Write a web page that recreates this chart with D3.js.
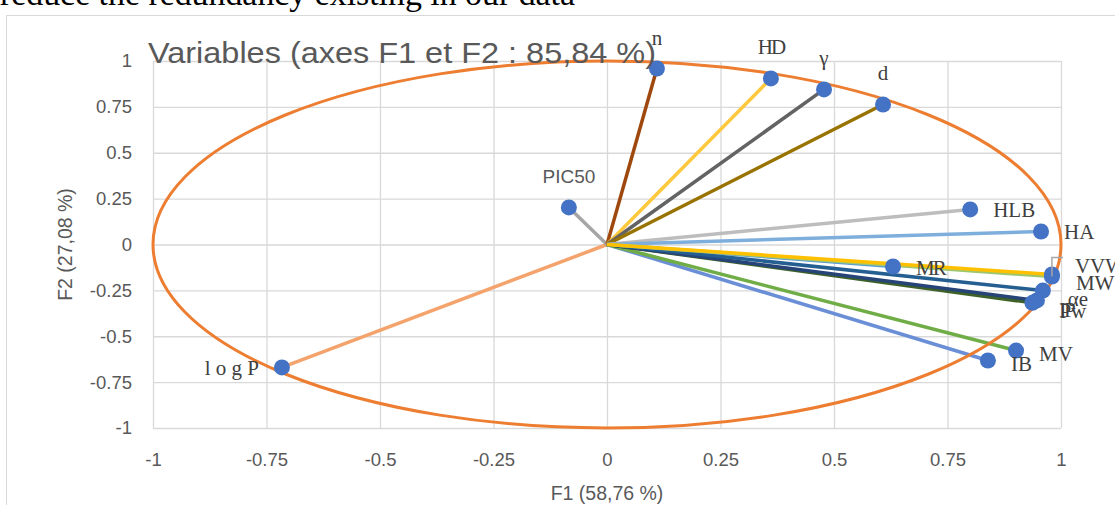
<!DOCTYPE html>
<meta charset="utf-8">
<title>Variables (axes F1 et F2)</title>
<script src="https://d3js.org/d3.v7.min.js"></script>
<style>
  body { margin: 0; background: #fff; }
  svg { display: block; }
</style>
<div id="chart"></div>
<script>
  // correlation circle data
  const names = ["n", "HD", "γ", "d", "PIC50", "HLB", "HA", "MR", "VVW", "MW", "αe", "IP", "Pw", "MV", "IB", "l o g P"];
  const f1 = [0.110, 0.361, 0.478, 0.608, -0.084, 0.800, 0.956, 0.630, 0.980, 0.980, 0.960, 0.947, 0.937, 0.901, 0.839, -0.716];
  const f2 = [0.959, 0.905, 0.845, 0.763, 0.202, 0.191, 0.071, -0.120, -0.163, -0.175, -0.251, -0.305, -0.318, -0.578, -0.632, -0.670];
  const lineColors = ["#9E480E", "#FFC83D", "#636363", "#997300", "#A5A5A5", "#BDBDBD", "#7EAEDC", "#5B9BD5",
                      "#FFC000", "#9DC76E", "#255E91", "#264478", "#3D6128", "#70AD47", "#6A8FD6", "#F4A36C"];
  const labelSide = ["top", "top", "top", "top", "top", "right", "right", "right",
                     "right", "right", "right", "right", "right", "right", "right", "left"];
  // small hand nudges for crowded labels (dx, dy)
  const nudge = { "VVW": [0, -9], "MW": [1, 5], "αe": [2, 7], "IP": [-1, 9], "Pw": [4, 7], "MV": [0, 2], "IB": [0, 3] };

  const ticks = [-1, -0.75, -0.5, -0.25, 0, 0.25, 0.5, 0.75, 1];
  const tickLabels = ["-1", "-0.75", "-0.5", "-0.25", "0", "0.25", "0.5", "0.75", "1"];

  const W = 1115, H = 505;
  const plot = { left: 153, right: 1061, top: 61, bottom: 428 };

  const svg = d3.select("#chart").append("svg")
    .attr("width", W).attr("height", H);

  // document text cut at the top
  svg.append("text")
    .attr("x", 0).attr("y", 5)
    .attr("textLength", 575)
    .attr("lengthAdjust", "spacingAndGlyphs")
    .style("font-family", "'Liberation Serif', 'Times New Roman', serif")
    .style("font-size", "33px")
    .style("fill", "#000")
    .text("reduce the redundancy existing in our data");

  // chart frame
  svg.append("rect")
    .attr("x", 6.5).attr("y", 15.5)
    .attr("width", W + 10).attr("height", H + 10)
    .attr("fill", "#fff").attr("stroke", "#D9D9D9");

  const x = d3.scaleLinear().domain([-1, 1]).range([plot.left, plot.right]);
  const y = d3.scaleLinear().domain([-1, 1]).range([plot.bottom, plot.top]);

  const tickFont = "'Liberation Sans', Arial, sans-serif";

  // vertical gridlines + x tick labels
  const xAxis = svg.append("g")
    .attr("transform", `translate(0,${plot.bottom})`)
    .call(d3.axisBottom(x).tickValues(ticks).tickFormat((d, i) => tickLabels[i])
      .tickSize(-(plot.bottom - plot.top)).tickPadding(25));
  xAxis.select(".domain").remove();

  const yAxis = svg.append("g")
    .attr("transform", `translate(${plot.left},0)`)
    .call(d3.axisLeft(y).tickValues(ticks).tickFormat((d, i) => tickLabels[i])
      .tickSize(-(plot.right - plot.left)).tickPadding(21));
  yAxis.select(".domain").remove();

  svg.selectAll(".tick line").attr("stroke", "#D9D9D9").attr("stroke-width", 1.3);
  svg.selectAll(".tick text")
    .style("font-family", tickFont)
    .style("font-size", "18.5px")
    .style("fill", "#595959");

  // axis titles
  svg.append("text")
    .attr("x", x(0)).attr("y", 500)
    .attr("text-anchor", "middle")
    .style("font-family", tickFont)
    .style("font-size", "19.5px")
    .style("fill", "#595959")
    .text("F1 (58,76 %)");

  svg.append("text")
    .attr("transform", `translate(72,${y(0)}) rotate(-90)`)
    .attr("text-anchor", "middle")
    .style("font-family", tickFont)
    .style("font-size", "19.5px")
    .style("fill", "#595959")
    .text("F2 (27,08 %)");

  const data = names.map((n, i) => ({ name: n, f1: f1[i], f2: f2[i], color: lineColors[i], side: labelSide[i] }));

  // vectors from the origin, drawn so the crowded right side stacks like the original
  const order = [7, 15, 4, 0, 1, 2, 3, 5, 6, 14, 13, 12, 11, 10, 9, 8];
  svg.append("g").selectAll("line")
    .data(order.map(i => data[i]))
    .join("line")
    .attr("x1", x(0)).attr("y1", y(0))
    .attr("x2", d => x(d.f1)).attr("y2", d => y(d.f2))
    .attr("stroke", d => d.color)
    .attr("stroke-width", 3.5);

  // correlation circle
  svg.append("ellipse")
    .attr("cx", x(0)).attr("cy", y(0))
    .attr("rx", x(1) - x(0)).attr("ry", y(0) - y(1))
    .attr("fill", "none")
    .attr("stroke", "#ED7D31")
    .attr("stroke-width", 3);

  // points
  svg.append("g").selectAll("circle")
    .data(data)
    .join("circle")
    .attr("cx", d => x(d.f1)).attr("cy", d => y(d.f2))
    .attr("r", 8)
    .attr("fill", "#4472C4");

  // leader line for VVW
  const vv = data[8];
  svg.append("path")
    .attr("d", `M${x(vv.f1)},${y(vv.f2) + 2}V${y(vv.f2) - 17}H${x(vv.f1) + 11}`)
    .attr("fill", "none")
    .attr("stroke", "#A6A6A6")
    .attr("stroke-width", 1.5);

  // labels
  svg.append("g").selectAll("text")
    .data(data)
    .join("text")
    .attr("x", d => {
      const n = nudge[d.name] ? nudge[d.name][0] : 0;
      if (d.side === "top") return x(d.f1) + n;
      if (d.side === "left") return x(d.f1) - 23 + n;
      return x(d.f1) + 23 + n;
    })
    .attr("y", d => {
      const n = nudge[d.name] ? nudge[d.name][1] : 0;
      if (d.side === "top") return y(d.f2) - 24 + n;
      return y(d.f2) + 8 + n;
    })
    .attr("text-anchor", d => d.side === "top" ? "middle" : d.side === "left" ? "end" : "start")
    .style("font-family", d => d.name === "PIC50" ? tickFont : "'Liberation Serif', 'Times New Roman', serif")
    .style("font-size", d => d.name === "PIC50" ? "19px" : "21px")
    .style("letter-spacing", d => d.name === "MR" || d.name === "HD" || d.name === "IP" ? "-2px" : null)
    .style("fill", d => d.name === "PIC50" ? "#595959" : "#404040")
    .text(d => d.name);

  // chart title
  svg.append("text")
    .attr("x", 148).attr("y", 63)
    .attr("textLength", 508)
    .attr("lengthAdjust", "spacingAndGlyphs")
    .style("font-family", "'Liberation Sans', Arial, sans-serif")
    .style("font-size", "29px")
    .style("fill", "#595959")
    .text("Variables (axes F1 et F2 : 85,84 %)");
</script>
